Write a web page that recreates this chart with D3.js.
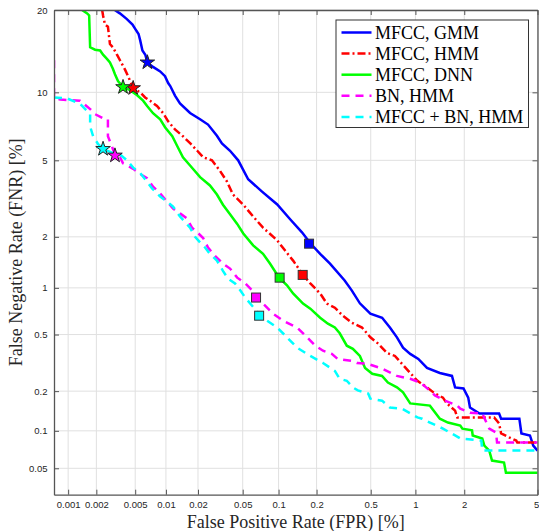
<!DOCTYPE html>
<html>
<head>
<meta charset="utf-8">
<script src="https://cdn.jsdelivr.net/npm/d3@7"></script>
<style>
  html, body { margin: 0; padding: 0; background: #fff; }
  svg { display: block; }
</style>
</head>
<body>
<svg id="chart" width="539" height="531"></svg>
<script>
// ---------------- DATA (percent) ----------------
const seriesNames = ["MFCC, GMM", "MFCC, HMM", "MFCC, DNN", "BN, HMM", "MFCC + BN, HMM"];
const xTickValues = [0.001, 0.002, 0.005, 0.01, 0.02, 0.05, 0.1, 0.2, 0.5, 1, 2, 5];
const xTickLabels = ["0.001", "0.002", "0.005", "0.01", "0.02", "0.05", "0.1", "0.2", "0.5", "1", "2", "5"];
const yTickValues = [0.05, 0.1, 0.2, 0.5, 1, 2, 5, 10, 20];
const yTickLabels = ["0.05", "0.1", "0.2", "0.5", "1", "2", "5", "10", "20"];
const xDomain = [0.0007, 5];
const yDomain = [0.03, 20];

// [FPR %, FNR %]
const detGMM = [[0.0031,20],[0.0035,19.5],[0.0041,18.7],[0.0047,17.9],[0.005,17.3],[0.0054,16.6],[0.0056,15.8],[0.0059,14.5],[0.0063,14.0],[0.0066,13.1],[0.0075,12.6],[0.0088,12.1],[0.0098,11.6],[0.0105,10.9],[0.011,10.6],[0.0122,9.7],[0.0136,9.0],[0.0169,8.2],[0.0209,7.7],[0.0247,7.3],[0.0297,6.5],[0.0329,6.0],[0.0388,5.55],[0.0457,5.0],[0.0557,4.04],[0.073,3.5],[0.0975,3.0],[0.124,2.5],[0.154,2.12],[0.179,1.84],[0.213,1.60],[0.253,1.40],[0.325,1.11],[0.366,0.965],[0.419,0.80],[0.497,0.686],[0.60,0.646],[0.678,0.557],[0.756,0.479],[0.83,0.407],[0.925,0.369],[1.044,0.34],[1.186,0.294],[1.426,0.271],[1.69,0.258],[1.765,0.213],[1.98,0.209],[2.11,0.179],[2.16,0.151],[2.45,0.136],[3.15,0.136],[3.23,0.124],[4.04,0.124],[4.14,0.0955],[4.58,0.092],[4.76,0.0764],[5.0,0.0697]];
const detHMM = [[0.0023,20],[0.00235,19.2],[0.00246,17.9],[0.00264,17.6],[0.00277,15.3],[0.00297,14.9],[0.00327,14.0],[0.00351,13.35],[0.00395,12.3],[0.00424,11.6],[0.00477,10.4],[0.0056,10.0],[0.00627,9.53],[0.0070,9.24],[0.0082,8.78],[0.0094,8.18],[0.0105,7.54],[0.0122,6.95],[0.0145,6.47],[0.0169,6.02],[0.0197,5.55],[0.0223,5.17],[0.0268,5.0],[0.0316,4.45],[0.0364,3.94],[0.0412,3.38],[0.0506,2.99],[0.0614,2.59],[0.0744,2.25],[0.0975,1.91],[0.113,1.67],[0.131,1.46],[0.157,1.20],[0.179,1.065],[0.213,0.923],[0.240,0.796],[0.275,0.75],[0.315,0.666],[0.366,0.60],[0.434,0.557],[0.497,0.479],[0.563,0.434],[0.647,0.375],[0.733,0.357],[0.817,0.314],[0.925,0.271],[1.03,0.238],[1.186,0.213],[1.33,0.192],[1.49,0.179],[1.575,0.162],[1.765,0.143],[1.82,0.127],[2.96,0.127],[3.15,0.114],[3.23,0.0955],[3.57,0.0887],[3.89,0.0838],[3.94,0.0808],[5.05,0.0808]];
const detDNN = [[0.00141,20],[0.0016,19.5],[0.00168,19.2],[0.00172,14.9],[0.00194,14.6],[0.00219,14.5],[0.00235,14.0],[0.00258,13.5],[0.00277,13.1],[0.00297,12.4],[0.00312,11.8],[0.00335,11.1],[0.00377,10.5],[0.00444,10.2],[0.00523,9.73],[0.00599,9.24],[0.00656,8.78],[0.0075,8.18],[0.0088,7.69],[0.00984,7.09],[0.0115,6.47],[0.0128,5.84],[0.0145,5.17],[0.0169,4.72],[0.0209,4.14],[0.0257,3.76],[0.0297,3.38],[0.0336,2.99],[0.0388,2.66],[0.0448,2.36],[0.0506,2.09],[0.0614,1.79],[0.0744,1.60],[0.0852,1.40],[0.101,1.155],[0.117,1.036],[0.131,0.923],[0.157,0.796],[0.179,0.739],[0.213,0.646],[0.244,0.591],[0.275,0.557],[0.299,0.51],[0.337,0.42],[0.373,0.40],[0.419,0.357],[0.456,0.294],[0.5125,0.267],[0.599,0.258],[0.657,0.231],[0.756,0.213],[0.83,0.196],[0.925,0.162],[1.237,0.156],[1.426,0.124],[1.598,0.116],[1.895,0.110],[1.95,0.104],[2.22,0.101],[2.24,0.092],[2.54,0.087],[2.61,0.0764],[2.78,0.0697],[2.88,0.0579],[3.35,0.0558],[3.43,0.046],[5.05,0.046]];
const detBN = [[0.0007,13.35],[0.0007,9.53],[0.00082,9.34],[0.00134,9.24],[0.00172,8.52],[0.00194,8.10],[0.00235,7.77],[0.00264,7.69],[0.00264,6.47],[0.0029,5.84],[0.00312,5.27],[0.00351,5.17],[0.00377,4.84],[0.00477,4.55],[0.0056,4.29],[0.00656,4.09],[0.0075,3.71],[0.0088,3.42],[0.0103,3.10],[0.0117,2.85],[0.0136,2.69],[0.0158,2.53],[0.0176,2.25],[0.0197,2.12],[0.0223,1.97],[0.0247,1.74],[0.0285,1.56],[0.0336,1.40],[0.0388,1.31],[0.0448,1.155],[0.0526,1.065],[0.0602,0.965],[0.065,0.87],[0.0744,0.796],[0.0903,0.686],[0.109,0.618],[0.141,0.557],[0.169,0.479],[0.196,0.42],[0.224,0.388],[0.261,0.369],[0.289,0.34],[0.366,0.33],[0.399,0.319],[0.48,0.314],[0.608,0.289],[0.756,0.258],[0.925,0.246],[1.074,0.231],[1.237,0.2025],[1.33,0.186],[1.53,0.170],[1.82,0.156],[1.895,0.148],[2.16,0.138],[2.54,0.136],[2.78,0.104],[3.03,0.097],[3.07,0.0808],[5.05,0.0808]];
const detFusion = [[0.0007,9.53],[0.00098,9.43],[0.00134,8.97],[0.0016,8.35],[0.00172,8.10],[0.00172,7.16],[0.00185,6.47],[0.00209,5.96],[0.00235,5.66],[0.0029,5.44],[0.00351,5.33],[0.00414,5.0],[0.00477,4.61],[0.0056,4.34],[0.00627,4.04],[0.00734,3.63],[0.0088,3.30],[0.0103,3.10],[0.0117,2.92],[0.0136,2.59],[0.0169,2.25],[0.0188,2.0],[0.0209,1.86],[0.0232,1.74],[0.0257,1.60],[0.0297,1.46],[0.0336,1.27],[0.0372,1.14],[0.0429,1.065],[0.0476,0.965],[0.0526,0.87],[0.0602,0.772],[0.0689,0.686],[0.0804,0.618],[0.0975,0.557],[0.117,0.479],[0.141,0.407],[0.179,0.357],[0.224,0.319],[0.275,0.28],[0.299,0.246],[0.337,0.238],[0.373,0.213],[0.405,0.2025],[0.48,0.192],[0.497,0.176],[0.599,0.170],[0.678,0.151],[0.817,0.148],[1.03,0.127],[1.104,0.124],[1.237,0.116],[1.49,0.104],[1.765,0.092],[1.895,0.087],[2.51,0.0838],[2.54,0.0697],[5.05,0.0697]];

// operating points: [FPR %, FNR %] per series (same order as seriesNames)
const starPoints = [[0.0066,13.1],[0.00477,10.4],[0.00377,10.5],[0.00312,5.27],[0.00235,5.66]];
const squarePoints = [[0.175,1.83],[0.156,1.20],[0.102,1.155],[0.065,0.87],[0.069,0.666]];

// ---------------- STYLE ----------------
const colors = ["#0000ff", "#ff0000", "#00ff00", "#ff00ff", "#00ffff"];
const dashes = [null, "8,3,2,3", null, "8,6", "8,6"];
const seriesData = [detGMM, detHMM, detDNN, detBN, detFusion];

// ---------------- probit (inverse normal CDF) ----------------
function probit(p) {
  const a=[-3.969683028665376e+01,2.209460984245205e+02,-2.759285104469687e+02,1.383577518672690e+02,-3.066479806614716e+01,2.506628277459239e+00];
  const b=[-5.447609879822406e+01,1.615858368580409e+02,-1.556989798598866e+02,6.680131188771972e+01,-1.328068155288572e+01];
  const c=[-7.784894002430293e-03,-3.223964580411365e-01,-2.400758277161838e+00,-2.549732539343734e+00,4.374664141464968e+00,2.938163982698783e+00];
  const d=[7.784695709041462e-03,3.224671290700398e-01,2.445134137142996e+00,3.754408661907416e+00];
  const pl = 0.02425, ph = 1 - pl;
  let q, r;
  if (p < pl) {
    q = Math.sqrt(-2 * Math.log(p));
    return (((((c[0]*q+c[1])*q+c[2])*q+c[3])*q+c[4])*q+c[5]) / ((((d[0]*q+d[1])*q+d[2])*q+d[3])*q+1);
  }
  if (p <= ph) {
    q = p - 0.5; r = q*q;
    return (((((a[0]*r+a[1])*r+a[2])*r+a[3])*r+a[4])*r+a[5])*q / (((((b[0]*r+b[1])*r+b[2])*r+b[3])*r+b[4])*r+1);
  }
  q = Math.sqrt(-2 * Math.log(1 - p));
  return -(((((c[0]*q+c[1])*q+c[2])*q+c[3])*q+c[4])*q+c[5]) / ((((d[0]*q+d[1])*q+d[2])*q+d[3])*q+1);
}
const pz = v => probit(v / 100);

// ---------------- LAYOUT ----------------
const L = 54, R = 537.5, T = 10, B = 494.7;
const svg = d3.select("#chart");

const xLin = d3.scaleLinear().domain(xDomain.map(pz)).range([L, R]);
const yLin = d3.scaleLinear().domain(yDomain.map(pz)).range([B, T]);
const x = v => xLin(pz(v));
const y = v => yLin(pz(v));

svg.append("defs").append("clipPath").attr("id", "clip")
  .append("rect").attr("x", L).attr("y", T).attr("width", R - L).attr("height", B - T);

// grid
const grid = svg.append("g").attr("stroke", "#e0e0e0").attr("stroke-width", 1);
xTickValues.forEach(v => grid.append("line").attr("x1", x(v)).attr("x2", x(v)).attr("y1", T).attr("y2", B));
yTickValues.forEach(v => grid.append("line").attr("y1", y(v)).attr("y2", y(v)).attr("x1", L).attr("x2", R));

// curves
const line = d3.line().x(d => x(d[0])).y(d => y(d[1]));
const plot = svg.append("g").attr("clip-path", "url(#clip)");
seriesData.forEach((data, i) => {
  plot.append("path").datum(data)
    .attr("d", line)
    .attr("fill", "none")
    .attr("stroke", colors[i])
    .attr("stroke-width", 2.5)
    .attr("stroke-linejoin", "miter")
    .attr("stroke-dasharray", dashes[i]);
});

// markers
const star = d3.symbol().type(d3.symbolStar).size(66);
starPoints.forEach((p, i) => {
  svg.append("path").attr("d", star())
    .attr("transform", `translate(${x(p[0])},${y(p[1])})`)
    .attr("fill", colors[i]).attr("stroke", "#222").attr("stroke-width", 1);
});
const sq = 9;
squarePoints.forEach((p, i) => {
  svg.append("rect")
    .attr("x", x(p[0]) - sq / 2).attr("y", y(p[1]) - sq / 2)
    .attr("width", sq).attr("height", sq)
    .attr("fill", colors[i]).attr("stroke", "#333").attr("stroke-width", 1);
});

// axes
const axisColor = "#555";
const xt = xTickValues.map(pz), yt = yTickValues.map(pz);
function styleAxis(g, labels) {
  g.selectAll(".domain").attr("stroke", axisColor).attr("stroke-width", 1.3);
  g.selectAll(".tick line").attr("stroke", axisColor).attr("stroke-width", 1);
  g.selectAll(".tick text").attr("fill", "#262626")
    .style("font-family", "'Liberation Sans', Arial, sans-serif").style("font-size", "9.5px");
  if (!labels) g.selectAll(".tick text").remove();
}
svg.append("g").attr("transform", `translate(0,${B})`)
  .call(d3.axisBottom(xLin).tickValues(xt).tickFormat((d, i) => xTickLabels[i]).tickSizeInner(-5).tickSizeOuter(0).tickPadding(6.5))
  .call(g => styleAxis(g, true))
  .call(g => g.selectAll(".tick:last-of-type text").attr("text-anchor", "end").attr("x", 1.3));
svg.append("g").attr("transform", `translate(0,${T})`)
  .call(d3.axisTop(xLin).tickValues(xt).tickSizeInner(-5).tickSizeOuter(0))
  .call(g => styleAxis(g, false));
svg.append("g").attr("transform", `translate(${L},0)`)
  .call(d3.axisLeft(yLin).tickValues(yt).tickFormat((d, i) => yTickLabels[i]).tickSizeInner(-5).tickSizeOuter(0).tickPadding(6.5))
  .call(g => styleAxis(g, true));
svg.append("g").attr("transform", `translate(${R},0)`)
  .call(d3.axisRight(yLin).tickValues(yt).tickSizeInner(-5).tickSizeOuter(0))
  .call(g => styleAxis(g, false));
svg.selectAll("g text").attr("font-family", null);

// axis titles
const serif = "'Liberation Serif', 'Times New Roman', serif";
svg.append("text").attr("x", (L + R) / 2).attr("y", 528)
  .attr("text-anchor", "middle").style("font-family", serif).style("font-size", "18px").attr("fill", "#262626")
  .text("False Positive Rate (FPR) [%]");
svg.append("text").attr("transform", `translate(22,${(T + B) / 2}) rotate(-90)`)
  .attr("text-anchor", "middle").style("font-family", serif).style("font-size", "18px").attr("fill", "#262626")
  .text("False Negative Rate (FNR) [%]");

// legend
const lg = svg.append("g");
lg.append("rect").attr("x", 336).attr("y", 20).attr("width", 192.5).attr("height", 107.5)
  .attr("fill", "#fff").attr("stroke", "#333").attr("stroke-width", 1);
seriesNames.forEach((name, i) => {
  const cy = 32.5 + i * 21.1;
  lg.append("line").attr("x1", 341.5).attr("x2", 371.5).attr("y1", cy).attr("y2", cy)
    .attr("stroke", colors[i]).attr("stroke-width", 2.5).attr("stroke-dasharray", dashes[i]);
  lg.append("text").attr("x", 375).attr("y", cy + 6)
    .style("font-family", serif).style("font-size", "18px").attr("fill", "#000")
    .text(name);
});
</script>
</body>
</html>
